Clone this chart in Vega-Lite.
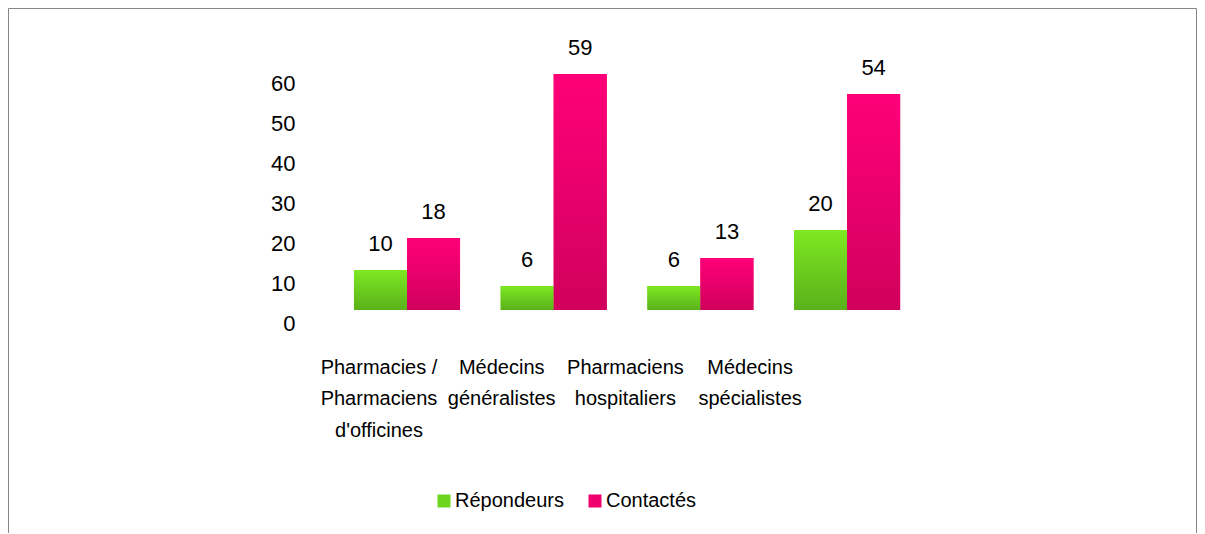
{
  "$schema": "https://vega.github.io/schema/vega-lite/v6.json",
  "width": 1188,
  "height": 525,
  "padding": {"left": 8, "top": 8, "right": 2, "bottom": 0},
  "background": "white",
  "config": {
    "view": {"stroke": "#868686", "strokeWidth": 1},
    "font": "Liberation Sans",
    "text": {"font": "Liberation Sans"}
  },
  "data": {
    "values": [
      {"cat": "Pharmacies / Pharmaciens d'officines", "serie": "Répondeurs", "value": 10},
      {"cat": "Pharmacies / Pharmaciens d'officines", "serie": "Contactés", "value": 18},
      {"cat": "Médecins généralistes", "serie": "Répondeurs", "value": 6},
      {"cat": "Médecins généralistes", "serie": "Contactés", "value": 59},
      {"cat": "Pharmaciens hospitaliers", "serie": "Répondeurs", "value": 6},
      {"cat": "Pharmaciens hospitaliers", "serie": "Contactés", "value": 13},
      {"cat": "Médecins spécialistes", "serie": "Répondeurs", "value": 20},
      {"cat": "Médecins spécialistes", "serie": "Contactés", "value": 54}
    ]
  },
  "encoding": {
    "x": {
      "field": "cat",
      "type": "nominal",
      "sort": null,
      "scale": {"range": [325.65, 912.45], "paddingInner": 0.277, "paddingOuter": 0.1385},
      "axis": {
        "title": null,
        "orient": "bottom",
        "offset": -160,
        "ticks": false,
        "tickSize": 0,
        "domain": false,
        "labelPadding": 0,
        "labelAngle": 0,
        "labelBaseline": "alphabetic",
        "labelFontSize": 20,
        "labelColor": "#000000",
        "labelLineHeight": 31.5,
        "labelLimit": 400,
        "labelOverlap": false,
        "labelFlush": false,
        "labelExpr": "indexof(datum.value,'Pharmacies')==0 ? ['Pharmacies /','Pharmaciens',\"d'officines\"] : indexof(datum.value,'généralistes')>=0 ? ['Médecins','généralistes'] : indexof(datum.value,'hospitaliers')>=0 ? ['Pharmaciens','hospitaliers'] : ['Médecins','spécialistes']",
        "labelOffset": {
          "condition": [
            {"test": "indexof(datum.value,'Pharmacies')==0", "value": -28},
            {"test": "indexof(datum.value,'généralistes')>=0", "value": -52},
            {"test": "indexof(datum.value,'hospitaliers')>=0", "value": -75}
          ],
          "value": -97
        }
      }
    },
    "xOffset": {
      "field": "serie",
      "type": "nominal",
      "sort": ["Répondeurs", "Contactés"],
      "scale": {"paddingInner": 0, "paddingOuter": 0}
    },
    "y": {
      "field": "value",
      "type": "quantitative",
      "scale": {"domain": [-55.75, 75.5], "nice": false, "zero": false},
      "axis": {
        "title": null,
        "values": [0, 10, 20, 30, 40, 50, 60],
        "offset": -313,
        "ticks": false,
        "domain": false,
        "grid": false,
        "labelPadding": 26,
        "labelFontSize": 22,
        "labelColor": "#000000",
        "labelOffset": 13,
        "labelFlush": false,
        "labelOverlap": false
      }
    }
  },
  "layer": [
    {
      "mark": {"type": "bar"},
      "encoding": {
        "color": {
          "field": "serie",
          "type": "nominal",
          "sort": ["Répondeurs", "Contactés"],
          "scale": {"domain": ["Répondeurs", "Contactés"], "range": ["#6cd61e", "#ee006c"]},
          "legend": {
            "title": null,
            "orient": "none",
            "legendX": 426,
            "legendY": 483,
            "direction": "horizontal",
            "symbolType": "square",
            "symbolSize": 169,
            "symbolStrokeWidth": 0,
            "labelFontSize": 20,
            "labelColor": "#000000",
            "labelOffset": 1,
            "columnPadding": 21,
            "labelLimit": 300
          }
        }
      }
    },
    {
      "transform": [{"filter": "datum.serie == 'Répondeurs'"}],
      "mark": {
        "type": "bar",
        "color": {
          "gradient": "linear", "x1": 0, "y1": 0, "x2": 0, "y2": 1,
          "stops": [{"offset": 0, "color": "#7ee823"}, {"offset": 1, "color": "#5ab11a"}]
        }
      },
      "encoding": {}
    },
    {
      "transform": [{"filter": "datum.serie == 'Contactés'"}],
      "mark": {
        "type": "bar",
        "color": {
          "gradient": "linear", "x1": 0, "y1": 0, "x2": 0, "y2": 1,
          "stops": [{"offset": 0, "color": "#ff0079"}, {"offset": 1, "color": "#d0005d"}]
        }
      },
      "encoding": {}
    },
    {
      "mark": {"type": "text", "dy": -26, "fontSize": 22, "baseline": "middle", "color": "#000000"},
      "encoding": {"text": {"field": "value", "type": "quantitative"}}
    }
  ]
}
